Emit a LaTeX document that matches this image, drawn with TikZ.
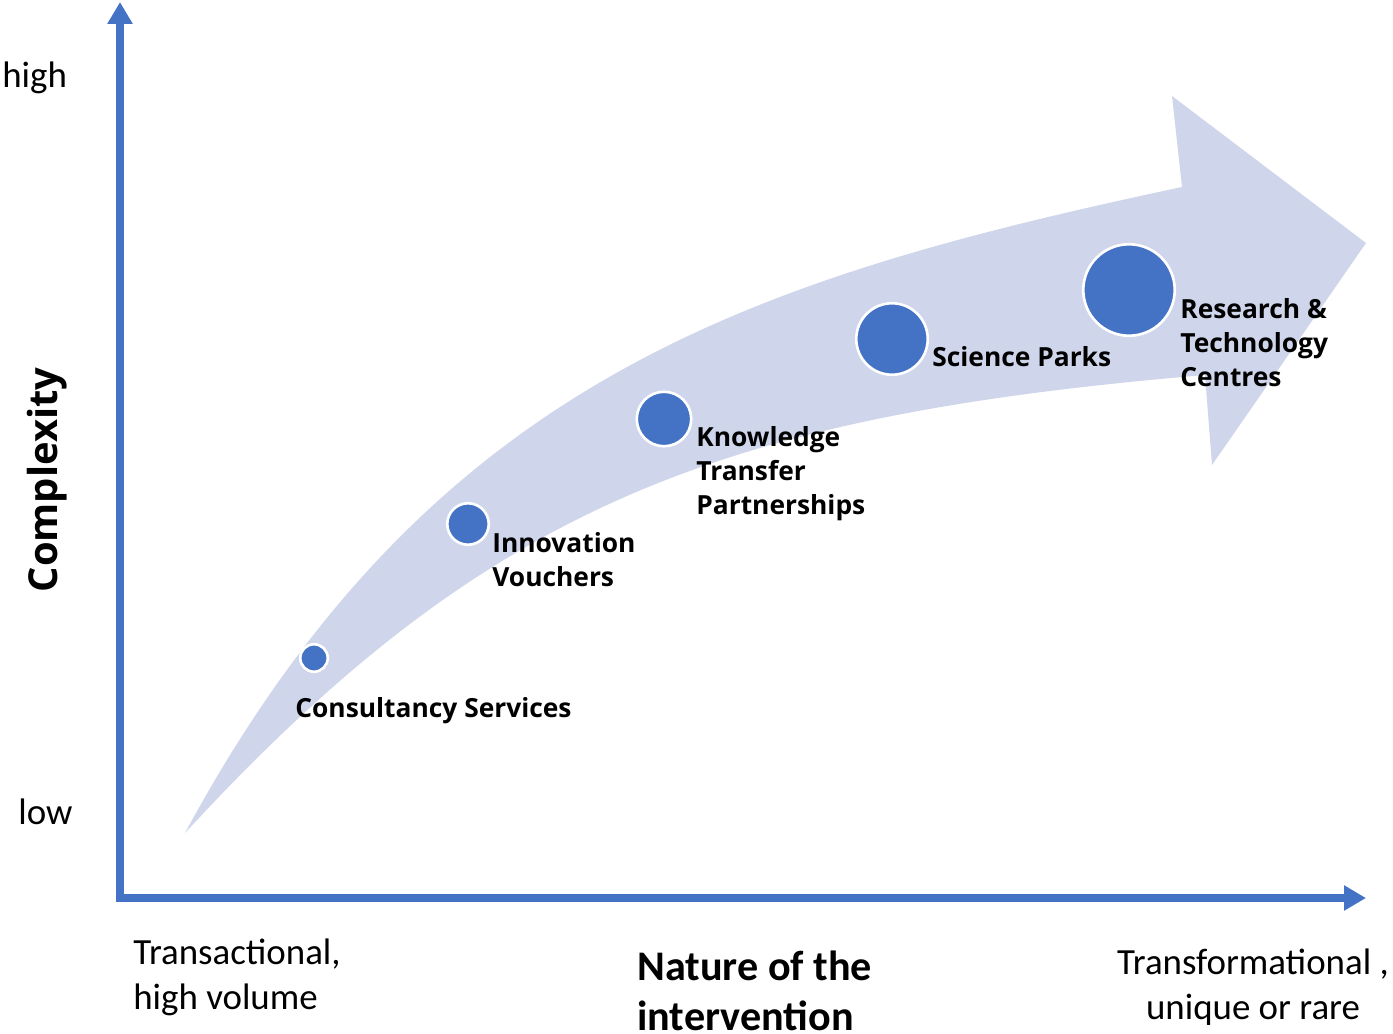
\documentclass[tikz,border=0pt]{standalone}
\usepackage{fontspec}
\setmainfont{Carlito}
\newfontfamily\osans{Open Sans}
\usetikzlibrary{arrows.meta,positioning}
\definecolor{axisblue}{HTML}{4472C4}
\definecolor{bandblue}{HTML}{CFD5EA}

\begin{document}
\begin{tikzpicture}[x=0.02cm,y=-0.02cm,
  dot/.style={circle, fill=axisblue, draw=white, line width=1.5pt, inner sep=0pt, minimum size=#1},
  stage/.style={anchor=west, inner sep=0pt, align=left, font=\osans\bfseries\fontsize{15}{19.3}\selectfont},
  axislbl/.style={inner sep=0pt, font=\fontsize{21}{25.6}\selectfont},
  axis/.style={axisblue, line width=4pt, line cap=rect, -{Triangle[width=0.48cm,length=0.44cm]}}]

\useasboundingbox (0,0) rectangle (1393,1034);

% Curved band arrow in the background
\fill[bandblue] (185,833) .. controls (430,380) and (750,279) .. (1182,187) -- (1172,96) -- (1366,243) -- (1212,465) -- (1205,375) .. controls (722,416) and (489,503) .. (185,833) -- cycle;

% Axes
\coordinate (origin) at (120,898);
\coordinate (ytip) at (120,2);
\coordinate (xtip) at (1366,898);
\draw[axis] (origin) -- (ytip);
\draw[axis] (origin) -- (xtip);

% Axis texts
\node[axislbl, anchor=west] (high) at (2,78) {high};
\node[axislbl, anchor=west] (low) at (18,812) {low};
\node[rotate=90, inner sep=0pt, font=\osans\bfseries\fontsize{22.7}{27}\selectfont] (cplx) at (47,480) {Complexity};
\node[axislbl, anchor=west, align=left] (trans) at (133,977) {Transactional,\\high volume};
\node[anchor=west, align=left, inner sep=0pt, font=\bfseries\fontsize{24}{28.5}\selectfont] (nature) at (637,991) {Nature of the\\intervention};
\node[axislbl, align=center] (transf) at (1253,987) {Transformational ,\\unique or rare};

% Circles along the band
\node[dot=0.55cm] (c1) at (314,658) {};
\node[dot=0.83cm] (c2) at (468,524) {};
\node[dot=1.09cm] (c3) at (664,419) {};
\node[dot=1.43cm] (c4) at (892,339) {};
\node[dot=1.83cm] (c5) at (1129,290) {};

% Circle texts
\node[stage] (cslbl) at (295,711) {Consultancy Services};
\node[stage] (ivlbl) at (492,560) {Innovation\\Vouchers};
\node[stage] (ktlbl) at (696,474) {Knowledge\\Transfer\\Partnerships};
\node[stage] (splbl) at (932,357) {Science Parks};
\node[stage] (rtlbl) at (1180,343) {Research \&\\Technology\\Centres};

\end{tikzpicture}
\end{document}
